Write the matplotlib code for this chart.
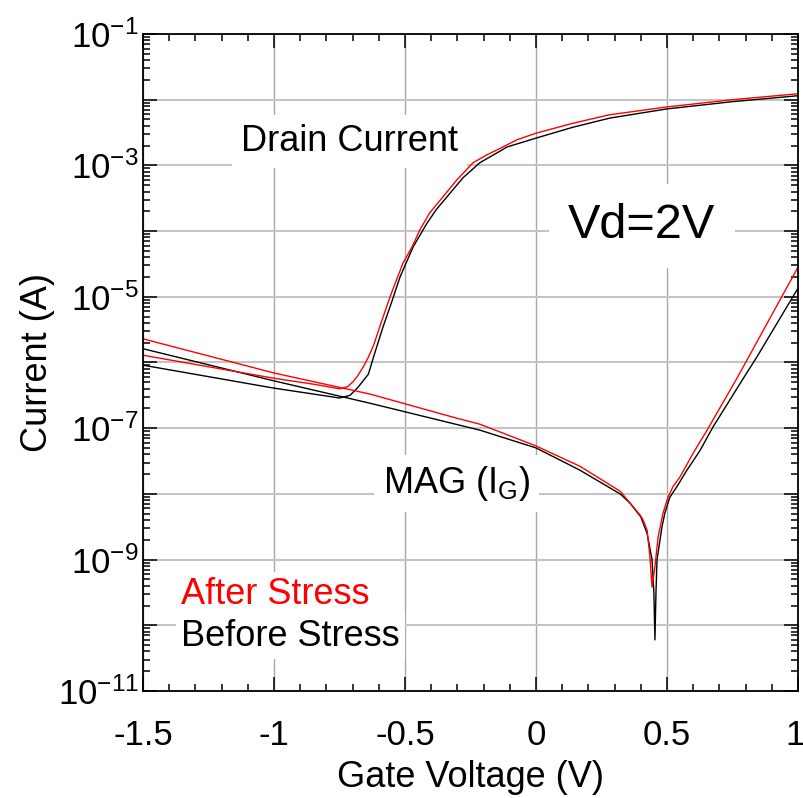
import math
import matplotlib
matplotlib.use("Agg")
import matplotlib.pyplot as plt
import matplotlib.transforms as mtransforms
from matplotlib.ticker import FixedLocator, FuncFormatter, LogLocator, MultipleLocator, NullFormatter

plt.rcParams['font.family'] = ['Liberation Sans', 'DejaVu Sans']
plt.rcParams['mathtext.fontset'] = 'custom'
plt.rcParams['mathtext.rm'] = 'Liberation Sans'
plt.rcParams['mathtext.it'] = 'Liberation Sans:italic'
plt.rcParams['mathtext.default'] = 'regular'

# ---------------- data ----------------
vg_drain_after = [-1.5, -1.0, -0.85, -0.75, -0.72, -0.70, -0.68, -0.66, -0.64, -0.62, -0.59, -0.557,
                  -0.508, -0.473, -0.443, -0.405, -0.366, -0.302, -0.24, -0.187, -0.126, -0.073,
                  0.0, 0.14, 0.28, 0.5, 0.75, 1.0]
id_after = [1.29e-6, 5.75e-7, 4.68e-7, 3.98e-7, 4.27e-7, 5.01e-7, 6.31e-7, 8.51e-7, 1.20e-6, 1.82e-6, 4.17e-6, 1.0e-5,
            3.24e-5, 5.75e-5, 1.05e-4, 1.91e-4, 2.95e-4, 6.03e-4, 1.10e-3, 1.45e-3, 1.91e-3, 2.45e-3,
            3.09e-3, 4.37e-3, 5.89e-3, 7.76e-3, 1.0e-2, 1.23e-2]

vg_drain_before = [-1.5, -1.0, -0.85, -0.75, -0.71, -0.68, -0.66, -0.64, -0.615, -0.584, -0.55, -0.519,
                   -0.469, -0.416, -0.38, -0.34, -0.279, -0.214, -0.149, -0.11, 0.004, 0.14, 0.282,
                   0.5, 0.75, 1.0]
id_before = [9.1e-7, 4.07e-7, 3.31e-7, 2.88e-7, 3.16e-7, 4.17e-7, 5.25e-7, 6.61e-7, 1.41e-6, 3.47e-6, 8.51e-6, 2.0e-5,
             5.75e-5, 1.32e-4, 2.14e-4, 3.31e-4, 6.46e-4, 1.10e-3, 1.55e-3, 1.91e-3, 2.63e-3, 3.80e-3, 5.25e-3,
             7.24e-3, 9.33e-3, 1.15e-2]

vg_gate_after = [-1.5, -1.0, -0.634, -0.3, -0.214, 0.0, 0.168, 0.321, 0.359, 0.397, 0.409, 0.424, 0.435, 0.443,
                 0.454, 0.466, 0.485, 0.504, 0.523, 0.55, 0.600, 0.653, 0.767, 1.0]
ig_after = [2.29e-6, 6.92e-7, 3.31e-7, 1.41e-7, 1.15e-7, 5.37e-8, 2.63e-8, 1.10e-8, 7.24e-9, 4.79e-9, 3.98e-9, 2.82e-9, 1.10e-9, 3.8e-10,
            7.76e-10, 2.19e-9, 5.13e-9, 8.91e-9, 1.29e-8, 1.82e-8, 4.17e-8, 9.33e-8, 5.75e-7, 2.82e-5]

vg_gate_before = [-1.5, -1.0, -0.634, -0.214, 0.0, 0.168, 0.321, 0.359, 0.40, 0.424, 0.443, 0.450, 0.454,
                  0.458, 0.462, 0.481, 0.492, 0.511, 0.538, 0.576, 0.626, 0.676, 0.729, 0.790, 0.844, 1.0]
ig_before = [1.62e-6, 5.25e-7, 2.40e-7, 9.33e-8, 5.01e-8, 2.29e-8, 1.0e-8, 7.24e-9, 4.47e-9, 2.51e-9, 1.0e-9, 3.16e-10, 6.0e-11,
             3.16e-10, 1.0e-9, 3.16e-9, 5.13e-9, 8.91e-9, 1.29e-8, 2.29e-8, 4.57e-8, 1.05e-7, 2.29e-7, 5.62e-7, 1.23e-6, 1.35e-5]

x_ticks = [-1.5, -1.0, -0.5, 0.0, 0.5, 1.0]
x_tick_labels = ['-1.5', '-1', '-0.5', '0', '0.5', '1']
y_decades = list(range(-11, 0))

# ---------------- figure ----------------
fig = plt.figure(figsize=(8.04, 7.98), dpi=100)
ax = fig.add_axes([0.1779, 0.1341, 0.8146, 0.8233])

ax.plot(vg_drain_before, id_before, color='black', lw=1.0, zorder=4)
ax.plot(vg_gate_before, ig_before, color='black', lw=1.0, zorder=4)
ax.plot(vg_drain_after, id_after, color='red', lw=1.0, zorder=5)
ax.plot(vg_gate_after, ig_after, color='red', lw=1.0, zorder=5)

ax.set_yscale('log')
ax.set_xlim(-1.5, 1.0)
ax.set_ylim(1e-11, 1e-1)

ax.xaxis.set_major_locator(FixedLocator(x_ticks))
ax.set_xticklabels(x_tick_labels)
ax.xaxis.set_minor_locator(MultipleLocator(0.1))


def yfmt(v, p):
    k = round(math.log10(v))
    return (r'$10^{%d}$' % k) if k % 2 != 0 else ''


ax.yaxis.set_major_locator(FixedLocator([10.0 ** k for k in y_decades]))
ax.yaxis.set_major_formatter(FuncFormatter(yfmt))
ax.yaxis.set_minor_locator(LogLocator(base=10, subs=range(2, 10), numticks=100))
ax.yaxis.set_minor_formatter(NullFormatter())

ax.tick_params(which='both', direction='in', top=True, right=True, width=1.1, colors='black')
ax.tick_params(which='major', length=10, labelsize=25)
ax.tick_params(which='minor', length=5)
ax.tick_params(axis='x', which='major', pad=20)
ax.tick_params(axis='y', which='major', pad=3)

ax.grid(True, axis='y', which='major', color='#c4c4c4', lw=1.5, zorder=0)
ax.grid(True, axis='x', which='major', color='#a8a8a8', lw=1.0, zorder=0)
ax.set_axisbelow(True)

for s in ax.spines.values():
    s.set_linewidth(1.3)
    s.set_zorder(6)

ax.set_xlabel('Gate Voltage (V)', fontsize=26, labelpad=6)
ax.set_ylabel('Current (A)', fontsize=26, labelpad=2)

# nudge the last x tick label slightly left so it stays inside the image
last = ax.get_xticklabels()[-1]
last.set_transform(last.get_transform() + mtransforms.ScaledTranslation(-3 / 100, 0, fig.dpi_scale_trans))

box = dict(facecolor='white', edgecolor='none', boxstyle='square,pad=0.25')
ax.text(0.150, 0.822, 'Drain Current', transform=ax.transAxes, fontsize=26,
        ha='left', va='baseline', bbox=box, zorder=3)
ax.text(0.649, 0.689, 'Vd=2V', transform=ax.transAxes, fontsize=35,
        ha='left', va='baseline', bbox=dict(facecolor='white', edgecolor='none', boxstyle='square,pad=0.4'), zorder=3)
ax.text(0.366, 0.301, r'MAG (I$_{G}$)', transform=ax.transAxes, fontsize=26,
        ha='left', va='baseline', bbox=box, zorder=3)
ax.text(0.058, 0.132, 'After Stress', transform=ax.transAxes, fontsize=26, color='red',
        ha='left', va='baseline', bbox=dict(facecolor='white', edgecolor='none', boxstyle='square,pad=0.15'), zorder=3)
ax.text(0.058, 0.069, 'Before Stress', transform=ax.transAxes, fontsize=26, color='black',
        ha='left', va='baseline', bbox=dict(facecolor='white', edgecolor='none', boxstyle='square,pad=0.15'), zorder=3)

fig.savefig('out.png', dpi=100)
